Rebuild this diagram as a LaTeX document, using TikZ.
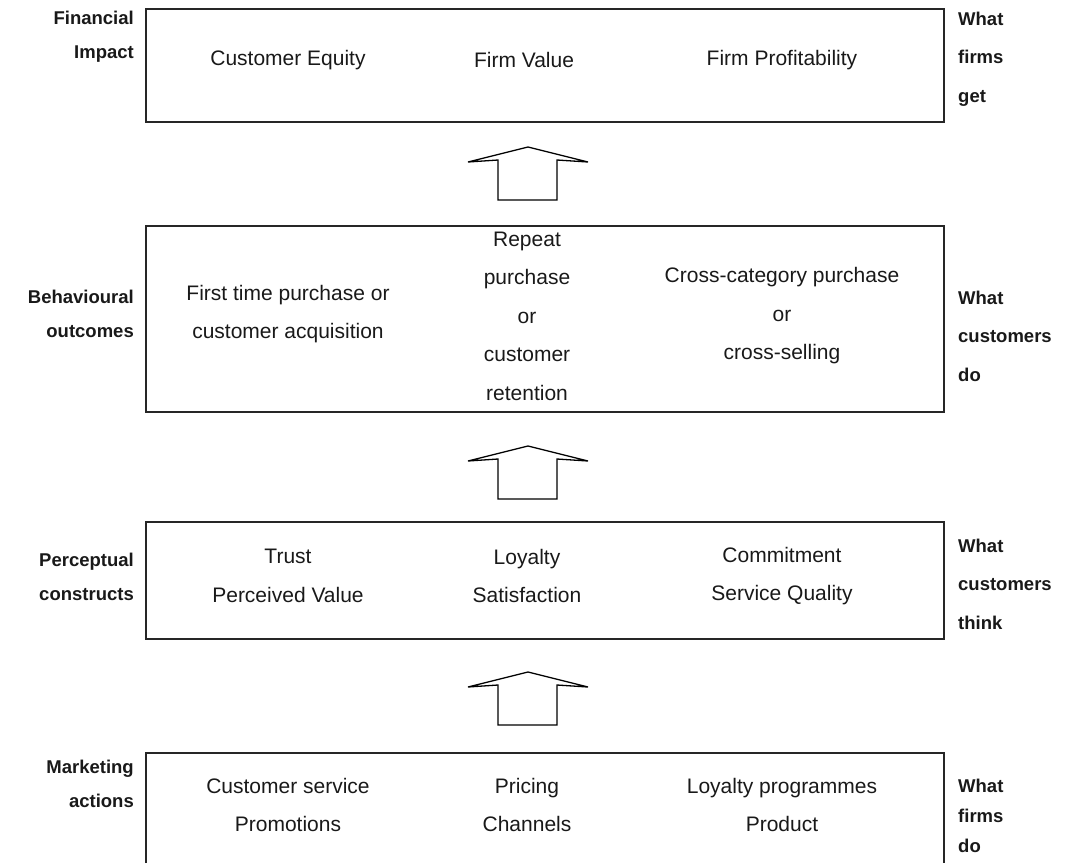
\documentclass[tikz,border=0pt]{standalone}
\usepackage{fontspec}
\setmainfont{Liberation Sans}
\begin{document}
\begin{tikzpicture}[x=1pt,y=-1pt,
  box/.style={draw=black!85,line width=1.1pt},
  upar/.style={draw=black,line width=1.3pt,line join=miter},
  txt/.style={align=center,font=\fontsize{21}{38.5}\selectfont,text=black!90,inner sep=0pt},
  lab/.style={align=right,anchor=east,font=\bfseries\fontsize{18.5}{34}\selectfont,text=black!90,inner sep=0pt},
  rlab/.style={align=left,anchor=west,font=\bfseries\fontsize{18.5}{38.5}\selectfont,text=black!90,inner sep=0pt}]
\useasboundingbox (0,0) rectangle (1074,863);
% boxes
\draw[box] (146,9) rectangle (944,122);
\draw[box] (146,226) rectangle (944,412);
\draw[box] (146,522) rectangle (944,639);
\draw[box] (146,863) -- (146,753) -- (944,753) -- (944,863);
% arrows
\foreach \ay/\nm in {147/a1,446/a2,672/a3}{
  \draw[upar] (498,\ay+53) -- (498,\ay+13) -- (468,\ay+15) -- (528,\ay) -- (588,\ay+15) -- (557,\ay+13) -- (557,\ay+53) -- cycle;
}
% box 1
\node[txt] (ce) at (288,60) {Customer Equity};
\node[txt] (fv) at (524,60) {Firm Value};
\node[txt] (fp) at (782,60) {Firm Profitability};
\node[lab] (l1) at (134,37) {Financial\\Impact};
\node[rlab] (r1) at (958,59) {What\\firms\\get};
% box 2
\node[txt] (ftp) at (288,314) {First time purchase or\\customer acquisition};
\node[txt] (rp) at (527,316) {Repeat\\purchase\\or\\customer\\retention};
\node[txt] (cc) at (782,316) {Cross-category purchase\\or\\cross-selling};
\node[lab] (l2) at (134,314) {Behavioural\\outcomes};
\node[rlab] (r2) at (958,336) {What\\customers\\do};
% box 3
\node[txt] (tr) at (288,576) {Trust\\Perceived Value};
\node[txt] (lo) at (527,576) {Loyalty\\Satisfaction};
\node[txt] (co) at (782,576) {Commitment\\Service Quality};
\node[lab] (l3) at (134,577) {Perceptual\\constructs};
\node[rlab] (r3) at (958,584) {What\\customers\\think};
% box 4
\node[txt] (cs) at (288,805) {Customer service\\Promotions};
\node[txt] (pr) at (527,805) {Pricing\\Channels};
\node[txt] (lp) at (782,805) {Loyalty programmes\\Product};
\node[lab] (l4) at (134,784) {Marketing\\actions};
\node[rlab,font=\bfseries\fontsize{18.5}{30}\selectfont] (r4) at (958,816) {What\\firms\\do};
\end{tikzpicture}
\end{document}
